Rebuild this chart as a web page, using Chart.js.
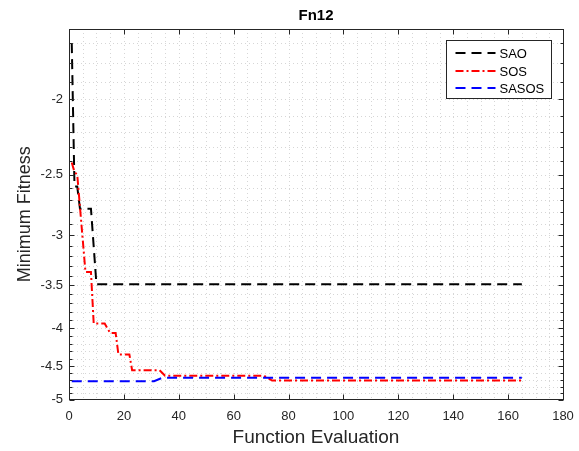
<!DOCTYPE html>
<html>
<head>
<meta charset="utf-8">
<script src="https://cdn.jsdelivr.net/npm/chart.js@4"></script>
<style>
  html, body { margin: 0; padding: 0; background: #fff; }
</style>
</head>
<body>
<canvas id="fitChart" width="579" height="451"></canvas>
<script>
const TITLE = "Fn12";
const X_LABEL = "Function Evaluation";
const Y_LABEL = "Minimum Fitness";
const X_TICKS = [0, 20, 40, 60, 80, 100, 120, 140, 160, 180];
const Y_TICKS = [-5, -4.5, -4, -3.5, -3, -2.5, -2];

const SAO_X = [1, 2, 3, 4, 8, 10, 165];
const SAO_Y = [-1.70, -2.59, -2.59, -2.77, -2.77, -3.49, -3.49];

const SOS_X = [1, 2, 3, 6, 8, 9, 13, 15, 17, 18, 22, 23, 33, 35, 71, 74, 165];
const SOS_Y = [-2.41, -2.48, -2.50, -3.36, -3.36, -3.94, -3.94, -4.06, -4.06, -4.34, -4.34, -4.56, -4.56, -4.64, -4.64, -4.71, -4.71];

const SASOS_X = [1, 31, 34, 165];
const SASOS_Y = [-4.72, -4.72, -4.67, -4.67];

const FONT = "'Liberation Sans', Arial, sans-serif";
const INK = "#262626";
const Y_SHIFT = 0.23;

// y axis in the figure is stretched like a log of (-value - shift)
class FitnessScale extends Chart.LinearScale {
  static id = "fitness";
  static defaults = {};
  warp(v) {
    return Math.log(-v - Y_SHIFT);
  }
  getPixelForValue(v) {
    const a = this.warp(this.min), b = this.warp(this.max);
    return this.getPixelForDecimal((this.warp(v) - a) / (b - a));
  }
  getValueForPixel(p) {
    const a = this.warp(this.min), b = this.warp(this.max);
    return -(Math.exp(a + this.getDecimalForPixel(p) * (b - a)) + Y_SHIFT);
  }
}
Chart.register(FitnessScale);

function toPoints(xs, ys) {
  return xs.map((x, i) => ({ x: x, y: ys[i] }));
}

function strokeLine(ctx, x1, y1, x2, y2) {
  ctx.beginPath();
  ctx.moveTo(x1, y1);
  ctx.lineTo(x2, y2);
  ctx.stroke();
}

const framePlugin = {
  id: "frame",
  beforeDatasetsDraw(chart) {
    const { ctx, chartArea: a, scales: { x, y } } = chart;
    ctx.save();
    ctx.strokeStyle = "#d6d6d6";
    ctx.lineWidth = 1;
    ctx.setLineDash([1, 3]);
    for (let v = 5; v < 180; v += 5) {
      const px = Math.round(x.getPixelForValue(v)) + 0.5;
      strokeLine(ctx, px, a.top, px, a.bottom);
    }
    for (let k = -49; k <= -17; k++) {
      const py = Math.round(y.getPixelForValue(k / 10)) + 0.5;
      strokeLine(ctx, a.left, py, a.right, py);
    }
    ctx.restore();
  },
  afterDatasetsDraw(chart) {
    const { ctx, chartArea: a, scales: { x, y } } = chart;
    const L = Math.floor(a.left) + 0.5, R = Math.floor(a.right) + 0.5;
    const T = Math.floor(a.top) + 0.5, B = Math.floor(a.bottom) + 0.5;
    ctx.save();
    ctx.strokeStyle = INK;
    ctx.lineWidth = 1;
    ctx.setLineDash([]);
    ctx.strokeRect(L, T, R - L, B - T);
    X_TICKS.forEach((v) => {
      const px = Math.round(x.getPixelForValue(v)) + 0.5;
      strokeLine(ctx, px, B, px, B - 5);
      strokeLine(ctx, px, T, px, T + 5);
    });
    for (let k = -50; k <= -17; k++) {
      const py = Math.round(y.getPixelForValue(k / 10)) + 0.5;
      const len = k % 5 === 0 ? 5 : 3;
      strokeLine(ctx, L, py, L + len, py);
      strokeLine(ctx, R, py, R - len, py);
    }

    // legend box
    const w = 105, h = 58;
    const bx = Math.round(a.right - 12 - w) + 0.5, by = Math.round(a.top + 11) + 0.5;
    ctx.fillStyle = "#fff";
    ctx.fillRect(bx, by, w, h);
    ctx.strokeRect(bx, by, w, h);
    ctx.font = "13px " + FONT;
    ctx.textBaseline = "middle";
    chart.data.datasets.forEach((ds, i) => {
      const ly = Math.round(by + 12.5 + i * 17.5);
      ctx.strokeStyle = ds.borderColor;
      ctx.lineWidth = 2;
      ctx.setLineDash(ds.borderDash);
      strokeLine(ctx, bx + 9, ly, bx + 49, ly);
      ctx.setLineDash([]);
      ctx.fillStyle = "#000";
      ctx.fillText(ds.label, bx + 53, ly + 1);
    });
    ctx.restore();
  },
};

function makeDataset(label, xs, ys, color, dash, order) {
  return {
    label: label,
    data: toPoints(xs, ys),
    borderColor: color,
    backgroundColor: color,
    borderWidth: 2,
    borderDash: dash,
    pointRadius: 0,
    fill: false,
    tension: 0,
    order: order,
  };
}

function createChart() {
  return new Chart(document.getElementById("fitChart").getContext("2d"), {
    type: "line",
    data: {
      datasets: [
        makeDataset("SAO", SAO_X, SAO_Y, "#000000", [10, 6], 2),
        makeDataset("SOS", SOS_X, SOS_Y, "#ff0000", [8, 3, 2, 3], 1),
        makeDataset("SASOS", SASOS_X, SASOS_Y, "#0000ff", [10, 6], 0),
      ],
    },
    options: {
      responsive: false,
      animation: false,
      devicePixelRatio: 1,
      layout: { padding: { left: 0, right: 16, top: 0, bottom: 0 } },
      plugins: {
        legend: { display: false },
        tooltip: { enabled: false },
        title: {
          display: true,
          fullSize: false,
          text: TITLE,
          color: "#000",
          font: { family: FONT, size: 15, weight: "bold" },
          padding: { top: 6.5, bottom: 4.5 },
        },
      },
      scales: {
        x: {
          type: "linear",
          min: 0,
          max: 180,
          grid: { display: false, drawTicks: false },
          border: { display: false },
          afterBuildTicks: (s) => { s.ticks = X_TICKS.map((v) => ({ value: v })); },
          afterFit: (s) => { s.height = 51.5; s.paddingLeft = 0; s.paddingRight = 0; },
          ticks: {
            color: INK,
            font: { family: FONT, size: 13 },
            padding: 9,
            maxRotation: 0,
            autoSkip: false,
            callback: (v) => String(v),
          },
          title: {
            display: true,
            text: X_LABEL,
            color: INK,
            font: { family: FONT, size: 19 },
            padding: { top: 0, bottom: 2 },
          },
        },
        y: {
          type: "fitness",
          min: -5,
          max: -1.633,
          grid: { display: false, drawTicks: false },
          border: { display: false },
          afterBuildTicks: (s) => { s.ticks = Y_TICKS.map((v) => ({ value: v })); },
          afterFit: (s) => { s.width = 69; s.paddingTop = 0; s.paddingBottom = 0; },
          ticks: {
            color: INK,
            font: { family: FONT, size: 13 },
            padding: 6,
            autoSkip: false,
            callback: (v) => String(v),
          },
          title: {
            display: true,
            text: Y_LABEL,
            color: INK,
            font: { family: FONT, size: 18 },
            padding: { top: 14, bottom: 0 },
          },
        },
      },
    },
    plugins: [framePlugin],
  });
}

createChart();
</script>
</body>
</html>
